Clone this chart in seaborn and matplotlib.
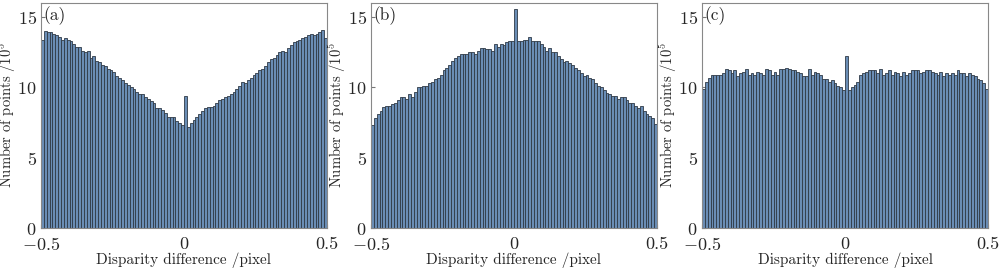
import numpy as np
import pandas as pd
import seaborn as sns
import matplotlib.pyplot as plt

# histogram counts (x 10^5) in 100 bins from -0.5 to 0.5 pixel
counts_a = [13.4, 14.0, 13.9, 13.9, 13.8, 13.7, 13.6, 13.4, 13.5, 13.4,
            13.3, 13.1, 12.9, 12.9, 12.6, 12.5, 12.6, 12.1, 12.2, 11.9,
            11.8, 11.6, 11.5, 11.3, 11.2, 11.1, 10.8, 10.7, 10.5, 10.3,
            10.2, 10.0, 9.9, 9.7, 9.5, 9.5, 9.3, 9.2, 9.0, 8.9,
            8.5, 8.5, 8.4, 8.2, 7.9, 7.9, 7.9, 7.6, 7.5, 7.3,
            9.4, 7.2, 7.5, 7.7, 7.9, 8.1, 8.3, 8.5, 8.6, 8.6,
            8.7, 8.9, 9.1, 9.2, 9.3, 9.4, 9.5, 9.7, 9.9, 10.1,
            10.4, 10.3, 10.5, 10.7, 10.9, 11.0, 11.2, 11.3, 11.5, 11.8,
            12.0, 12.1, 12.3, 12.5, 12.6, 12.5, 12.8, 13.0, 13.2, 13.3,
            13.4, 13.5, 13.6, 13.7, 13.8, 13.7, 13.8, 13.9, 14.1, 13.5]

counts_b = [7.3, 7.8, 8.1, 8.3, 8.6, 8.7, 8.7, 8.8, 8.9, 9.1,
            9.3, 9.3, 9.2, 9.5, 9.3, 9.7, 10.0, 10.0, 10.1, 10.1,
            10.3, 10.4, 10.6, 10.7, 10.9, 11.2, 11.4, 11.6, 11.9, 12.1,
            12.2, 12.4, 12.4, 12.4, 12.5, 12.5, 12.4, 12.6, 12.8, 12.8,
            12.7, 12.7, 12.6, 13.1, 12.9, 13.1, 13.0, 13.2, 13.3, 13.3,
            15.6, 13.3, 13.3, 13.4, 13.4, 13.6, 13.3, 13.3, 13.3, 13.1,
            12.9, 12.6, 12.8, 12.5, 12.5, 12.2, 12.0, 11.8, 11.9, 11.7,
            11.6, 11.4, 11.2, 11.0, 10.8, 10.9, 10.7, 10.6, 10.3, 10.1,
            10.0, 9.8, 9.6, 9.5, 9.4, 9.4, 9.2, 9.3, 9.3, 9.1,
            8.9, 8.9, 8.7, 8.5, 8.7, 8.3, 8.1, 8.0, 7.8, 7.4]

counts_c = [9.9, 10.4, 10.7, 10.9, 10.9, 10.9, 10.9, 11.0, 11.3, 11.2,
            11.0, 11.2, 10.8, 11.0, 11.1, 11.3, 10.9, 11.0, 10.9, 11.1,
            11.0, 10.9, 11.3, 11.2, 10.9, 11.1, 10.9, 11.3, 11.3, 11.4,
            11.3, 11.2, 11.2, 11.1, 11.0, 10.8, 10.8, 11.3, 10.9, 11.1,
            11.0, 10.9, 10.6, 10.6, 10.4, 10.5, 10.3, 10.1, 10.0, 9.8,
            12.2, 9.8, 10.0, 10.2, 10.4, 10.9, 11.0, 11.1, 11.2, 11.2,
            11.2, 11.0, 11.3, 10.9, 11.0, 11.2, 10.9, 11.1, 11.0, 10.8,
            11.1, 10.9, 11.0, 11.2, 11.2, 11.2, 11.0, 11.1, 11.2, 11.2,
            11.1, 11.0, 10.9, 11.1, 10.8, 11.0, 10.9, 11.0, 10.9, 11.2,
            11.0, 11.0, 10.8, 11.0, 10.9, 10.8, 10.6, 10.5, 10.3, 9.9]

panels = ['(a)', '(b)', '(c)']
xticks = [-0.5, 0, 0.5]
yticks = [0, 5, 10, 15]

sns.set_style('ticks')
plt.rcParams['font.family'] = 'serif'
plt.rcParams['font.serif'] = ['cmr10', 'DejaVu Serif']
plt.rcParams['mathtext.fontset'] = 'cm'
plt.rcParams['axes.formatter.use_mathtext'] = True

nbins = 100
centers = np.linspace(-0.5, 0.5, nbins + 1)[:-1] + 0.5 / nbins

fig = plt.figure(figsize=(10, 2.68), dpi=100)
lefts = [0.041, 0.371, 0.702]

for left, label, counts in zip(lefts, panels, [counts_a, counts_b, counts_c]):
    ax = fig.add_axes([left, 0.149, 0.286, 0.840])
    df = pd.DataFrame({'x': centers, 'n': counts})
    sns.histplot(data=df, x='x', weights='n', bins=nbins, binrange=(-0.5, 0.5),
                 ax=ax, color='#6a8db5', edgecolor='#2f3a46', linewidth=0.6,
                 alpha=1)
    ax.set_xlim(-0.5, 0.5)
    ax.set_ylim(0, 16)
    ax.set_xticks(xticks)
    ax.set_xticklabels(['$-0.5$', '0', '0.5'])
    ax.set_yticks(yticks)
    ax.tick_params(direction='in', labelsize=13, length=3, color='#777777')
    ax.tick_params(axis='x', pad=6)
    ax.tick_params(axis='y', pad=3)
    ax.set_xlabel('Disparity difference /pixel', fontsize=11, labelpad=-1)
    ax.set_ylabel('Number of points /10$^5$', fontsize=10.5)
    ax.yaxis.set_label_coords(-0.08, 0.5)
    ax.text(0.01, 0.985, label, transform=ax.transAxes, fontsize=12.5,
            ha='left', va='top')
    for s in ax.spines.values():
        s.set_color('#888888')
        s.set_linewidth(0.8)

plt.savefig('out.png', dpi=100)
